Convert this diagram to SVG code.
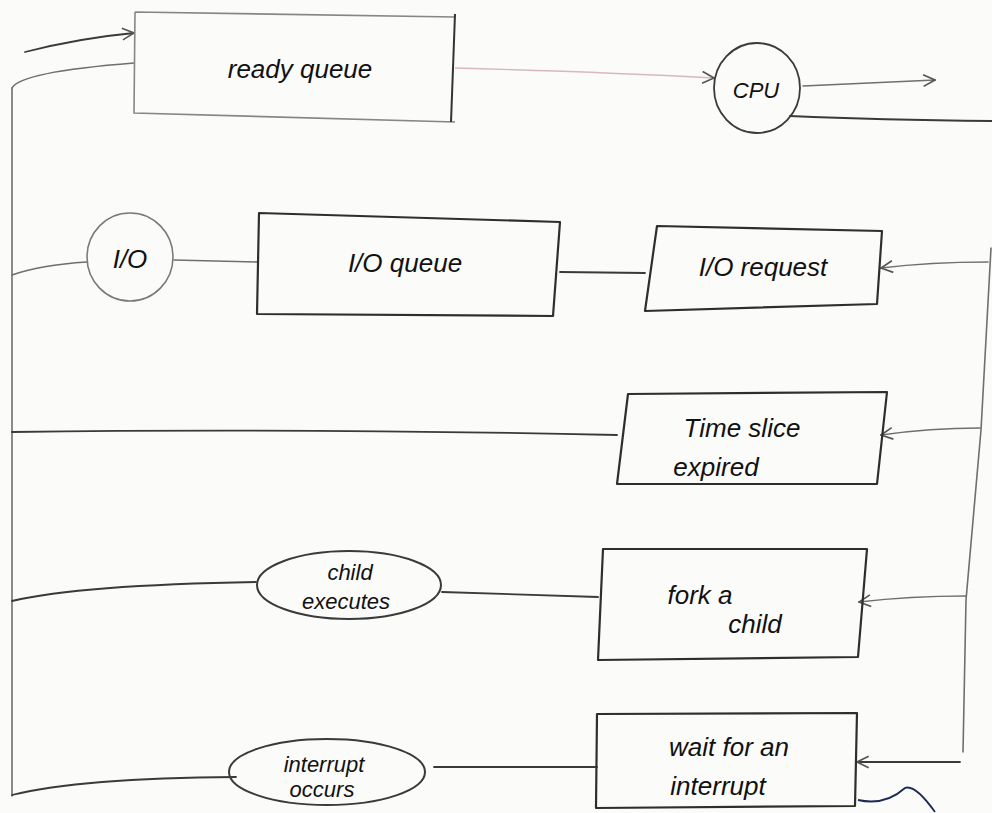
<svg xmlns="http://www.w3.org/2000/svg" width="992" height="813" viewBox="0 0 992 813">
<defs>
<style>
.bg{fill:#fbfbfa}
.box{fill:none;stroke:#2e2e2e;stroke-width:2.2;stroke-linejoin:round}
.light{fill:none;stroke:#8a8585;stroke-width:1.6}
.ln{fill:none;stroke:#3a3a3a;stroke-width:1.8;stroke-linecap:round}
.lnl{fill:none;stroke:#6f6f6f;stroke-width:1.6;stroke-linecap:round}
.t{font-family:"Liberation Sans","DejaVu Sans",sans-serif;font-style:italic;font-size:26px;fill:#111;text-anchor:middle}
.ts{font-family:"Liberation Sans","DejaVu Sans",sans-serif;font-style:italic;font-size:22px;fill:#111;text-anchor:middle}
</style>
<marker id="ah" viewBox="0 0 12 12" refX="11" refY="6" markerWidth="14" markerHeight="14" markerUnits="userSpaceOnUse" orient="auto">
<path d="M1,1 L11,6 L1,11" fill="none" stroke="#555" stroke-width="1.4"/>
</marker>
</defs>
<rect class="bg" x="0" y="0" width="992" height="813"/>

<g id="connectors">
<path class="ln" d="M25,52 Q80,38 134,33" marker-end="url(#ah)"/>
<path class="lnl" d="M12,88 Q20,72 134,63"/>
<path class="lnl" d="M12,88 L12,796"/>
<path d="M455,68 Q600,72 714,78" fill="none" stroke="#d8b8bc" stroke-width="1.4" marker-end="url(#ah)"/>
<path class="lnl" d="M803,86 L935,80" marker-end="url(#ah)"/>
<path class="ln" d="M790,116 Q880,120 992,121"/>
<path class="lnl" d="M991,248 L981,430 L966,600 L963,752"/>
<path class="lnl" d="M988,262 Q930,262 881,268" marker-end="url(#ah)"/>
<path class="lnl" d="M980,428 Q930,428 881,435" marker-end="url(#ah)"/>
<path class="lnl" d="M966,596 Q910,596 859,602" marker-end="url(#ah)"/>
<path class="ln" d="M960,762 L857,762" marker-end="url(#ah)"/>
<path class="ln" d="M645,273 L560,272" stroke-width="2.4"/>
<path class="lnl" d="M258,262 L174,260"/>
<path class="lnl" d="M87,262 Q40,265 12,275"/>
<path class="ln" d="M617,435 Q300,428 12,432"/>
<path class="ln" d="M598,597 L442,592"/>
<path class="ln" d="M256,582 Q80,585 12,601"/>
<path class="ln" d="M597,767 L434,767" stroke-width="2.2"/>
<path class="ln" d="M236,777 Q80,778 12,795"/>
<path d="M858,800 Q885,806 905,788 Q915,784 935,812" fill="none" stroke="#1c2a55" stroke-width="1.8"/>
</g>

<g id="ready-queue">
<path class="light" d="M135,12 L455,17 M135,12 L134,113 L455,122" />
<path d="M455,14 L451,122" fill="none" stroke="#333" stroke-width="2"/>
<text class="t" x="300" y="78">ready queue</text>
</g>

<g id="cpu">
<ellipse cx="757" cy="88" rx="43" ry="45" fill="none" stroke="#3a3a3a" stroke-width="1.8"/>
<text class="ts" x="756" y="98">CPU</text>
</g>

<g id="io-device">
<ellipse cx="130" cy="257" rx="43" ry="44" fill="none" stroke="#7a7a7a" stroke-width="1.6"/>
<text class="t" x="130" y="268">I/O</text>
</g>

<g id="io-queue">
<path class="box" d="M259,213 L560,222 L553,316 L257,314 Z"/>
<text class="t" x="405" y="272">I/O queue</text>
</g>

<g id="io-request">
<path class="box" d="M657,226 L882,231 L877,304 L645,311 Z"/>
<text class="t" x="763" y="276">I/O request</text>
</g>

<g id="time-slice">
<path class="box" d="M628,394 L887,392 L877,484 L617,484 Z"/>
<text class="t" x="742" y="437">Time slice</text>
<text class="t" x="716" y="476">expired</text>
</g>

<g id="child-executes">
<ellipse cx="349" cy="585" rx="92" ry="34" fill="none" stroke="#3a3a3a" stroke-width="2"/>
<text class="ts" x="350" y="580">child</text>
<text class="ts" x="346" y="609">executes</text>
</g>

<g id="fork-child">
<path class="box" d="M603,549 L867,549 L858,657 L598,660 Z"/>
<text class="t" x="700" y="604">fork   a</text>
<text class="t" x="755" y="633">child</text>
</g>

<g id="interrupt-occurs">
<ellipse cx="327" cy="772" rx="98" ry="33" fill="none" stroke="#3a3a3a" stroke-width="2"/>
<text class="ts" x="324" y="772">interrupt</text>
<text class="ts" x="322" y="797">occurs</text>
</g>

<g id="wait-interrupt">
<path class="box" d="M597,714 L857,713 L855,806 L596,808 Z"/>
<text class="t" x="729" y="756">wait  for an</text>
<text class="t" x="718" y="795">interrupt</text>
</g>
</svg>
